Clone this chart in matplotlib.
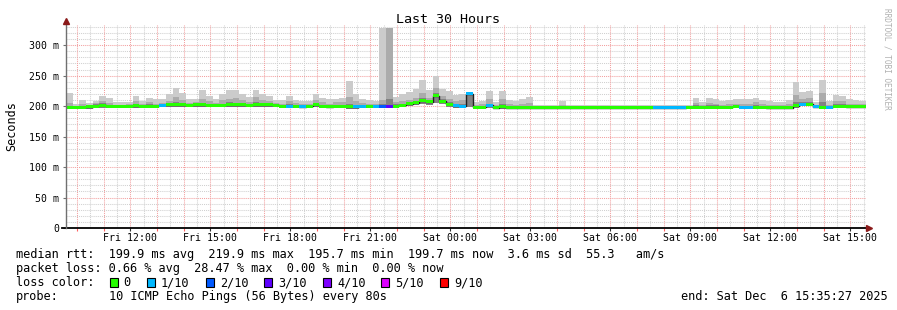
import numpy as np
import matplotlib
matplotlib.use("Agg")
import matplotlib.pyplot as plt
from matplotlib.patches import Rectangle

# ---------------- data (ms) ----------------
start_hour = 9 + 35 / 60.0      # Fri 09:35
bin_hours = 0.25                 # 15 min bins
span_hours = 30

smoke_max = [221,204,210,205,208,217,213,207,207,207,
             217,208,214,211,212,219,230,221,211,212,
             226,216,211,220,226,226,220,215,227,219,
             217,210,210,217,210,208,208,219,213,211,
             212,214,241,220,212,210,209,328,328,215,
             220,223,228,242,227,250,228,225,218,220,
             221,207,208,225,207,225,210,209,211,215,
             202,202,202,201,209,201,201,201,201,201,
             201,201,201,201,201,201,201,201,202,201,
             201,201,201,202,213,207,213,212,208,210,
             211,211,211,214,210,208,206,206,210,239,
             223,225,206,243,208,218,217,211,210,209]

smoke_hi = [205,200,203,201,205,209,205,202,202,203,
            208,203,206,204,205,208,215,210,205,206,
            212,208,205,210,212,213,210,207,215,210,
            208,205,204,208,205,204,204,210,206,204,
            206,206,215,208,205,204,204,210,328,207,
            208,210,214,222,214,230,216,212,208,210,
            220,202,203,212,202,212,203,202,204,205,
            199,199,199,199,202,199,199,199,199,199,
            199,199,199,199,199,199,199,199,199,199,
            199,199,199,199,205,202,205,204,202,203,
            204,203,203,206,203,202,201,201,203,218,
            212,213,201,222,202,208,208,204,203,203]

smoke_dk = [200,199.5,200,200.5,203,205,202,201.5,201.5,202,
            203,201.5,203,202,203,204,206,204,203,204,
            205,204,203,204,206,205,205,203,206,205,
            204,203,202,203,202,201,202,204,202,201,
            202,202,203,202,202,202,202,204,212,203,
            204,207,209,214,210,222,211,206,203,203,
            221,200,200,204,199.5,203,199.5,199.5,200,200,
            198.5,198.5,198.5,198.5,199,198.5,198.5,198.5,198.5,198.5,
            198.5,198.5,198.5,198.5,198.5,198.5,198.5,198.5,198.5,198.5,
            198.5,198.5,198.5,199.5,201,200,201,201,200,200,
            202,200,200,201,200,199.5,199,199,200,206,
            207,207,200,206,200,203,203,201.5,201,201]

smoke_min = [195.5,195.5,196,196,196.5,197,197,197,197,196.5,
             197,197,197,197,198,198.5,198.5,198.5,198,198.5,
             199,198.5,198,198,199,198.5,198.5,198,198.5,198.5,
             198.5,198,197,197,197,196.5,197,198.5,197,196.5,
             196.5,196.5,196,196,196.5,197,197,197,197,197,
             198,200,201,203,202,205,203,199,197.5,197,
             199,195.5,195.5,196.5,195.5,196,195.5,195.5,195.5,195.5,
             195,195,195,195,195,195,195,195,195,195,
             195,195,195,195,195,195,195,195,195,195,
             195,195,195,195.5,195.5,195.5,195.5,195.5,195.5,196,
             196.5,195.5,195.5,195.5,195.5,195,195,195,195,197.5,
             200,200,196.5,195.5,195.5,197,197,196.5,196.5,196.5]

median_rtt = [198,198,198.4,199,199.5,201.6,200,200,200,199.5,
              200.5,200,200,200,201,202,202,202,201,202,
              202.5,201.5,201,201,202.5,202,202,201,202,202,
              202,201,200,200,200,199,200,202,200,199,
              199.5,199.5,199,199,199.5,200,200,200,200,200,
              201,204,205.5,209,207,217,208,203,200.5,200,
              220,198,198,201,197.5,199,197.5,197.5,197.5,197.5,
              197,197,197,197,197,197,197,197,197,197,
              197,197,197,197,197,197,197,197,197,197,
              197,197,197,198,198,198,198,198,198,198,
              199.5,198,198,198,198,197.5,197.5,197.5,197.5,200.5,
              203,203,199,198,198,200,200,199,199,199]

loss_tenths = [0,0,0,0,0,0,0,0,0,0,
               0,0,0,0,1,0,0,0,0,0,
               0,0,0,0,0,0,0,0,0,0,
               0,0,0,1,0,1,0,0,0,0,
               0,0,0,1,1,0,1,2,3,0,
               0,0,0,0,0,0,0,0,1,1,
               1,0,0,1,0,0,0,0,0,0,
               0,0,0,0,0,0,0,0,0,0,
               0,0,0,0,0,0,0,0,1,1,
               1,1,1,0,0,0,0,0,0,0,
               0,1,1,0,0,0,0,0,0,0,
               1,0,1,0,1,0,0,0,0,0]

x_tick_hours = [12, 15, 18, 21, 24, 27, 30, 33, 36, 39]
x_tick_labels = ["Fri 12:00", "Fri 15:00", "Fri 18:00", "Fri 21:00", "Sat 00:00",
                 "Sat 03:00", "Sat 06:00", "Sat 09:00", "Sat 12:00", "Sat 15:00"]
y_ticks = [0, 50, 100, 150, 200, 250, 300]
y_tick_labels = ["0", "50 m", "100 m", "150 m", "200 m", "250 m", "300 m"]

loss_levels = [0, 1, 2, 3, 4, 5, 9]
loss_labels = ["0", "1/10", "2/10", "3/10", "4/10", "5/10", "9/10"]
loss_colors = ["#26ff00", "#00b8ff", "#0059ff", "#5e00ff", "#7e00ff", "#dd00ff", "#ff0000"]

# ---------------- figure ----------------
W, H = 897, 310
fig = plt.figure(figsize=(W / 100, H / 100), dpi=100)
fig.patch.set_facecolor("white")
MONO = "DejaVu Sans Mono"

def fx(px):
    return px / W

def fy(py):
    return 1 - py / H

ax = fig.add_axes([fx(66), fy(228), fx(800), (228 - 25) / H])
ymax = 333
ax.set_xlim(start_hour, start_hour + span_hours)
ax.set_ylim(0, ymax)
for s in ax.spines.values():
    s.set_visible(False)

# grid
dot = (0, (1, 1))
for v in np.arange(10, ymax, 10):
    if v % 50 == 0:
        continue
    ax.axhline(v, color="#d0d0d0", lw=0.75, ls=dot, zorder=0)
for h in np.arange(np.ceil(start_hour * 2) / 2, start_hour + span_hours, 0.5):
    if abs(h - round(h)) < 1e-6:
        continue
    ax.axvline(h, color="#d0d0d0", lw=0.75, ls=dot, zorder=0)
for h in np.arange(np.ceil(start_hour), start_hour + span_hours, 1.0):
    ax.axvline(h, color="#f3a0a0", lw=0.75, ls=dot, zorder=0.5)
for v in np.arange(50, ymax, 50):
    ax.axhline(v, color="#f3a0a0", lw=0.75, ls=dot, zorder=0.5)

# smoke
n = len(median_rtt)
t = start_hour + np.arange(n) * bin_hours
smax = np.array(smoke_max); shi = np.array(smoke_hi)
sdk = np.array(smoke_dk); smin = np.array(smoke_min)
med = np.array(median_rtt); loss = np.array(loss_tenths)

ax.bar(t, smax - smin, bottom=smin, width=bin_hours, align="edge",
       color="#cbcbcb", linewidth=0, zorder=2)
ax.bar(t, shi - smin, bottom=smin, width=bin_hours, align="edge",
       color="#ababab", linewidth=0, zorder=2.1)
ax.bar(t, sdk - smin, bottom=smin, width=bin_hours, align="edge",
       color="#828282", linewidth=0, zorder=2.2)

# median: black step line + loss coloured band
edges = np.append(t, t[-1] + bin_hours)
ax.step(edges, np.append(med, med[-1]), where="post", color="#202020",
        lw=1.0, zorder=3)
color_of = dict(zip(loss_levels, loss_colors))
band_cols = [color_of[int(l)] for l in loss]
ax.bar(t, 4.8, bottom=med - 2.4, width=bin_hours, align="edge",
       color=band_cols, linewidth=0, zorder=4)

# axes lines & arrows
ax.plot([start_hour - 0.15, start_hour + span_hours + 0.1], [0, 0],
        color="black", lw=1.3, clip_on=False, zorder=5)
ax.plot([start_hour, start_hour], [0, ymax], color="#707070", lw=1.0,
        clip_on=False, zorder=5)
ax.plot([start_hour], [ymax + 6], marker="^", ms=4.5, color="#8b1a1a",
        clip_on=False, zorder=6)
ax.plot([start_hour + span_hours + 0.12], [0], marker=">", ms=4.5,
        color="#8b1a1a", clip_on=False, zorder=6)

# ticks
ax.set_xticks(x_tick_hours)
ax.set_xticklabels(x_tick_labels, fontfamily=MONO, fontsize=7.15)
ax.set_xticks(np.arange(np.ceil(start_hour), start_hour + span_hours, 1.0), minor=True)
ax.tick_params(axis="x", which="major", length=2, width=0.8, color="#303030",
               pad=1.5, direction="out")
ax.tick_params(axis="x", which="minor", length=2, width=0.8, color="#ff6060",
               direction="out")
ax.set_yticks(y_ticks)
ax.set_yticklabels(y_tick_labels, fontfamily=MONO, fontsize=7.15)
ax.tick_params(axis="y", which="major", length=2, width=0.8, color="#707070",
               pad=3.0, direction="out")

ax.set_ylabel("Seconds", fontfamily=MONO, fontsize=8.5, labelpad=8)

# title and watermark
fig.text(fx(448), fy(19.5), "Last 30 Hours", ha="center", va="center",
         fontfamily=MONO, fontsize=9.6)
fig.text(fx(887), fy(59), "RRDTOOL / TOBI OETIKER", ha="center", va="center",
         rotation=270, fontfamily=MONO, fontsize=5.6, color="#b0b0b0")

# legend
LS = 8.57
fig.text(fx(16), fy(254.5),
         "median rtt:  199.9 ms avg  219.9 ms max  195.7 ms min  199.7 ms now  3.6 ms sd  55.3   am/s",
         ha="left", va="center", fontfamily=MONO, fontsize=LS)
fig.text(fx(16), fy(268.5),
         "packet loss: 0.66 % avg  28.47 % max  0.00 % min  0.00 % now",
         ha="left", va="center", fontfamily=MONO, fontsize=LS)
fig.text(fx(16), fy(282.5), "loss color:", ha="left", va="center",
         fontfamily=MONO, fontsize=LS)
box_x = [109.5, 147, 206, 264, 323, 381, 440]
for bx, lab, col in zip(box_x, loss_labels, loss_colors):
    fig.add_artist(Rectangle((fx(bx), fy(287)), fx(8), 9 / H, transform=fig.transFigure,
                             facecolor=col, edgecolor="black", lw=0.8))
    fig.text(fx(bx + 14), fy(282.5), lab, ha="left", va="center",
             fontfamily=MONO, fontsize=LS)
fig.text(fx(16), fy(296.5), "probe:", ha="left", va="center",
         fontfamily=MONO, fontsize=LS)
fig.text(fx(109), fy(296.5), "10 ICMP Echo Pings (56 Bytes) every 80s",
         ha="left", va="center", fontfamily=MONO, fontsize=LS)
fig.text(fx(888), fy(296.5), "end: Sat Dec  6 15:35:27 2025",
         ha="right", va="center", fontfamily=MONO, fontsize=LS)

fig.savefig("out.png", dpi=100, facecolor="white")
